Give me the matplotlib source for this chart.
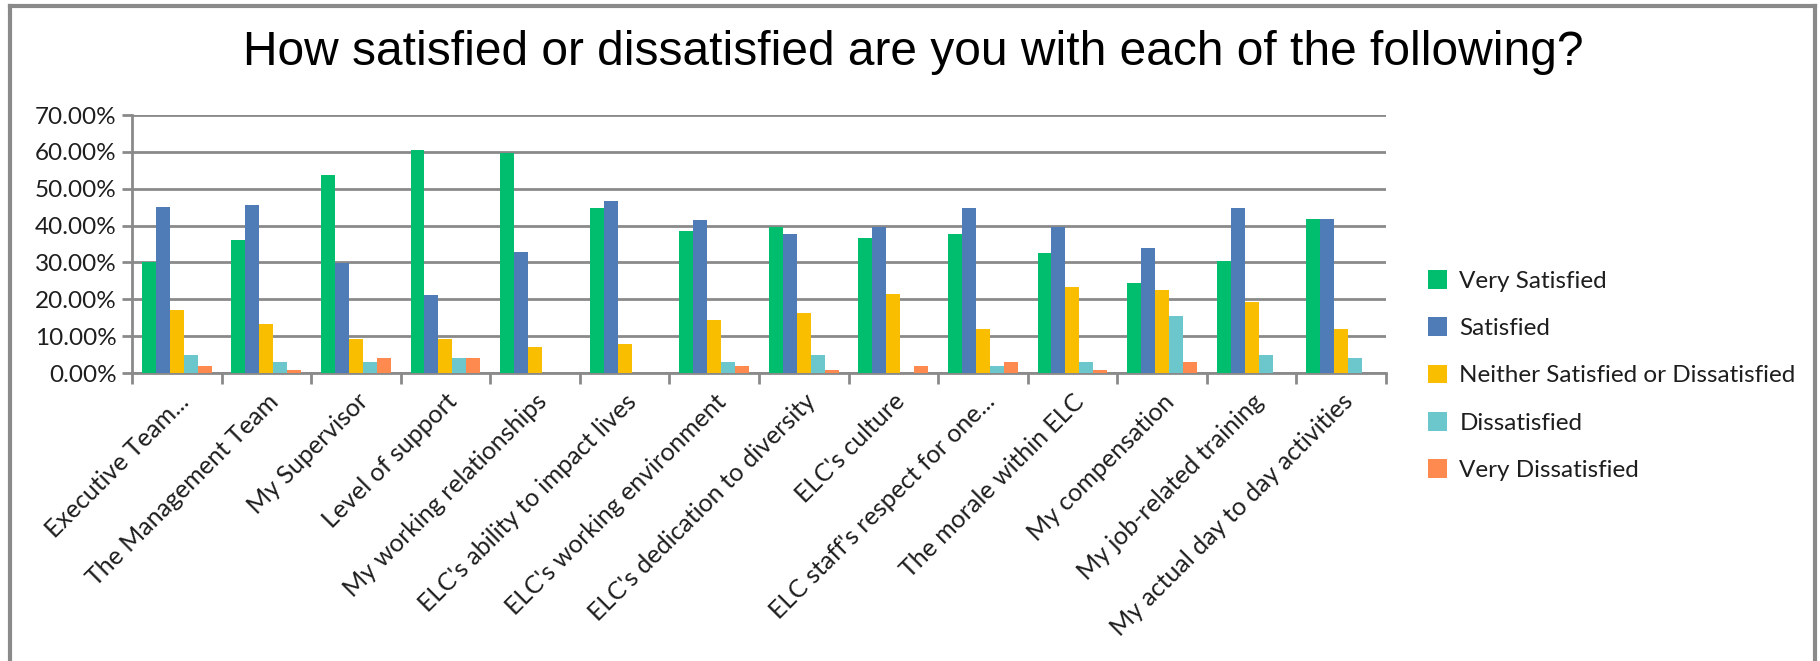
import numpy as np
import matplotlib.pyplot as plt
from matplotlib.lines import Line2D
from matplotlib.ticker import PercentFormatter

categories = ["Executive Team...", "The Management Team", "My Supervisor",
              "Level of support", "My working relationships",
              "ELC's ability to impact lives", "ELC's working environment",
              "ELC's dedication to diversity", "ELC's culture",
              "ELC staff's respect for one...", "The morale within ELC",
              "My compensation", "My job-related training",
              "My actual day to day activities"]

very_satisfied = [30.0, 36.2, 53.6, 60.5, 59.8, 44.7, 38.4, 39.7, 36.6, 37.7, 32.5, 24.5, 30.4, 41.8]
satisfied = [45.0, 45.6, 29.8, 21.3, 32.8, 46.7, 41.6, 37.8, 39.7, 44.7, 39.7, 33.9, 44.7, 41.8]
neither = [17.2, 13.3, 9.2, 9.2, 7.0, 7.9, 14.5, 16.2, 21.4, 12.0, 23.4, 22.4, 19.2, 12.0]
dissatisfied = [5.0, 2.9, 2.9, 4.1, 0, 0, 2.9, 5.0, 0, 1.9, 2.9, 15.4, 5.0, 4.1]
very_dissatisfied = [2.0, 0.8, 4.1, 4.1, 0, 0, 1.9, 0.8, 1.9, 2.9, 0.8, 2.9, 0, 0]

series = [("Very Satisfied", very_satisfied, "#00BE6E"),
          ("Satisfied", satisfied, "#4F7BB6"),
          ("Neither Satisfied or Dissatisfied", neither, "#F9BE00"),
          ("Dissatisfied", dissatisfied, "#6CC7CC"),
          ("Very Dissatisfied", very_dissatisfied, "#FF8A50")]

grey = "#8A8A8A"
label_font = "Lato"
text_col = "#1E1E1E"

fig = plt.figure(figsize=(18.2, 6.61), dpi=100)
ax = fig.add_axes([0.0725, 0.4357, 0.689, 0.3903])

x = np.arange(len(categories))
w = 0.156
for i, (name, vals, col) in enumerate(series):
    ax.bar(x + (i - 2) * w, vals, width=w, color=col, label=name, zorder=3)

ax.set_xlim(-0.5, len(categories) - 0.5)
ax.set_ylim(0, 70)
ax.set_yticks(np.arange(0, 71, 10))
ax.yaxis.set_major_formatter(PercentFormatter(decimals=2))
ax.grid(axis="y", color=grey, linewidth=2, zorder=0)

ax.set_xticks(x)
ax.set_xticklabels(categories, rotation=45, ha="right", rotation_mode="anchor",
                   fontsize=18, family=label_font, color=text_col)
ax.set_xticks(np.arange(-0.5, len(categories), 1), minor=True)
ax.tick_params(axis="x", which="major", length=0, pad=12)
ax.tick_params(axis="x", which="minor", length=8, width=2, color=grey)
ax.tick_params(axis="y", length=7, width=2, color=grey, labelsize=17.5, pad=4)
for t in ax.get_yticklabels():
    t.set_family(label_font)
    t.set_color(text_col)

for s in ["top", "right"]:
    ax.spines[s].set_visible(False)
for s in ["left", "bottom"]:
    ax.spines[s].set_color(grey)
    ax.spines[s].set_linewidth(2)

fig.text(0.502, 0.92, "How satisfied or dissatisfied are you with each of the following?",
         ha="center", va="center", fontsize=34.5, family="Liberation Sans")

leg = ax.legend(loc="center left", bbox_to_anchor=(1.016, -0.01), frameon=False,
                prop={"family": label_font, "size": 17.5},
                handlelength=0.8, handleheight=0.8, handletextpad=0.5, labelspacing=1.05)
for t in leg.get_texts():
    t.set_color(text_col)

# outer chart frame
fx0, fx1, fy1 = 10 / 1820, 1815 / 1820, 1 - 6 / 661
fig.add_artist(Line2D([fx0, fx0], [0, fy1], color=grey, lw=3))
fig.add_artist(Line2D([fx0, fx1], [fy1, fy1], color=grey, lw=3))
fig.add_artist(Line2D([fx1, fx1], [0, fy1], color=grey, lw=3))

fig.savefig("out.png", dpi=100)
